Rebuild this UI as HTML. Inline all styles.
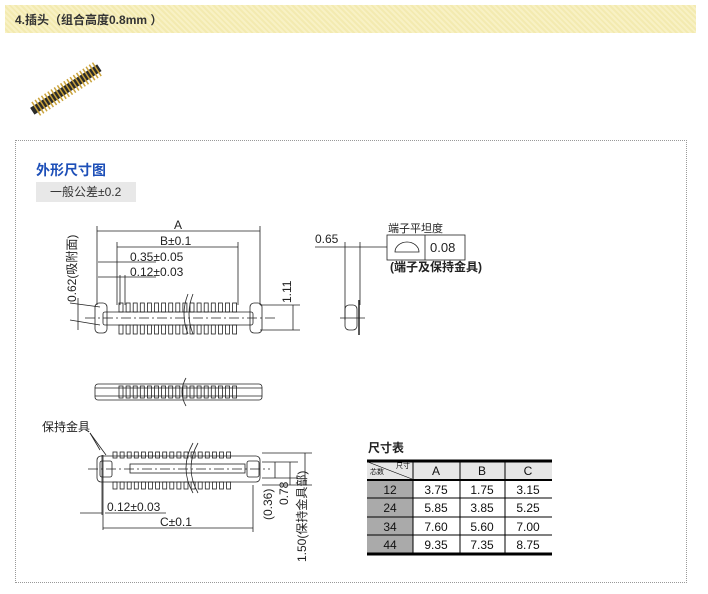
<!DOCTYPE html>
<html><head><meta charset="utf-8">
<style>
body{margin:0;width:708px;height:594px;background:#fff;font-family:"Liberation Sans","Noto Sans CJK SC",sans-serif;position:relative;overflow:hidden}
.hdr{position:absolute;left:5px;top:5px;width:691px;height:28px;background:repeating-linear-gradient(45deg,#f8f1c4 0 2px,#f3eab0 2px 4px);}
.hdr span{position:absolute;left:10px;top:6px;font-size:12px;font-weight:bold;color:#333}
.box{position:absolute;left:15px;top:140px;width:670px;height:441px;border:1px dotted #999}
.t1{position:absolute;left:36px;top:160px;font-size:14px;font-weight:bold;color:#1d4fb8}
.t2{position:absolute;left:36px;top:182px;width:100px;height:20px;background:#e8e8e8;font-size:12px;color:#333;line-height:20px;text-indent:14px}
svg{position:absolute;left:0;top:0}
</style></head><body>
<div class="hdr"><span>4.插头（组合高度0.8mm ）</span></div>
<div class="box"></div>
<div class="t1">外形尺寸图</div>
<div class="t2">一般公差±0.2</div>
<svg width="708" height="594" xmlns="http://www.w3.org/2000/svg" font-family="Liberation Sans,Noto Sans CJK SC,sans-serif">
<g transform="rotate(-33 65 90)">
<rect x="26" y="86" width="80" height="8" fill="#2a2a2a"/>
<g id="photopins"></g>
</g>
<g stroke="#222" fill="none" stroke-width="0.8">
<line x1="97" y1="226" x2="97" y2="305"/><line x1="260" y1="226" x2="260" y2="305"/>
<line x1="97" y1="231" x2="260" y2="231"/>
<line x1="117" y1="242" x2="117" y2="305"/><line x1="238" y1="242" x2="238" y2="305"/>
<line x1="117" y1="247" x2="238" y2="247"/>
<line x1="98" y1="262" x2="156" y2="262"/><line x1="98" y1="277" x2="156" y2="277"/>
<line x1="120" y1="275" x2="120" y2="305"/><line x1="125" y1="275" x2="125" y2="305"/>
<rect x="103" y="312" width="150" height="13" rx="2"/>
<rect x="95" y="303" width="12" height="30" rx="4"/><rect x="250" y="303" width="12" height="30" rx="4"/>
<line x1="85" y1="318" x2="275" y2="318" stroke-dasharray="10 3 2 3"/>
<line x1="260" y1="305" x2="300" y2="305"/><line x1="260" y1="330" x2="300" y2="330"/>
<line x1="293" y1="305" x2="293" y2="330"/>
<line x1="78" y1="298" x2="78" y2="330"/>
<line x1="70" y1="303" x2="100" y2="307"/><line x1="70" y1="320" x2="100" y2="325"/>
<path d="M188 294 q-8 20 0 40" /><path d="M193 294 q-8 20 0 40"/>
<g id="pins1"></g>
<rect x="95" y="384" width="167" height="16" rx="3"/>
<line x1="95" y1="388" x2="262" y2="388"/><line x1="95" y1="396" x2="262" y2="396"/>
<path d="M186 378 q-8 14 0 28" />
<g id="pins2"></g>
<rect x="97" y="456" width="163" height="26" rx="4"/>
<rect x="100" y="461" width="12" height="16" rx="2"/><rect x="247" y="461" width="12" height="16" rx="2"/>
<rect x="130" y="464" width="115" height="9"/>
<line x1="88" y1="469" x2="270" y2="469" stroke-dasharray="10 3 2 3"/>
<path d="M193 443 q-14 25 0 50"/><path d="M198 443 q-14 25 0 50"/>
<line x1="103" y1="455" x2="103" y2="530"/><line x1="102" y1="455" x2="102" y2="515"/><line x1="253" y1="485" x2="253" y2="532"/>
<line x1="80" y1="513" x2="102" y2="513"/><line x1="105" y1="513" x2="166" y2="513"/>
<line x1="103" y1="528" x2="253" y2="528"/>
<line x1="90" y1="433" x2="100" y2="450"/><line x1="90" y1="433" x2="106" y2="455"/>
<line x1="262" y1="453" x2="312" y2="453"/><line x1="262" y1="462" x2="298" y2="462"/><line x1="262" y1="478" x2="298" y2="478"/><line x1="262" y1="485" x2="312" y2="485"/>
<line x1="275" y1="462" x2="275" y2="478"/><line x1="290" y1="462" x2="290" y2="485"/><line x1="305" y1="453" x2="305" y2="485"/>
<g id="pins3"></g>
<line x1="315" y1="247" x2="387" y2="247"/>
<line x1="345" y1="242" x2="345" y2="320"/><line x1="360" y1="242" x2="360" y2="305"/>
<rect x="345" y="305" width="12" height="25" rx="4"/>
<line x1="359" y1="300" x2="359" y2="335" stroke-width="1.5"/>
<line x1="340" y1="318" x2="365" y2="318"/>
<rect x="387" y="235" width="78" height="25"/><line x1="425" y1="235" x2="425" y2="260"/>
<path d="M395 252 a12 10 0 0 1 24 0 z"/>
</g>
<g font-size="12" fill="#222">
<text x="174" y="229">A</text>
<text x="160" y="245">B±0.1</text>
<text x="130" y="261">0.35±0.05</text>
<text x="130" y="276">0.12±0.03</text>
<text transform="translate(76 302) rotate(-90)">0.62(吸附面)</text>
<text transform="translate(291 303) rotate(-90)">1.11</text>
<text x="107" y="511">0.12±0.03</text>
<text x="160" y="526">C±0.1</text>
<text transform="translate(272 520) rotate(-90)">(0.36)</text>
<text transform="translate(288 505) rotate(-90)">0.78</text>
<text transform="translate(306 562) rotate(-90)">1.50(保持金具部)</text>
<text x="42" y="431">保持金具</text>
<text x="315" y="243">0.65</text>
<text x="388" y="232" font-size="11">端子平坦度</text>
<text x="430" y="252" font-size="13">0.08</text>
<text x="390" y="271" font-weight="bold">(端子及保持金具)</text>
<text x="368" y="452" font-weight="bold" font-size="12">尺寸表</text>
</g>
<g>
<rect x="367" y="461" width="185" height="19" fill="#e6e6e6"/>
<rect x="367" y="480" width="46" height="74" fill="#aaa"/>
<g stroke="#000"><line x1="367" y1="461" x2="552" y2="461" stroke-width="3"/><line x1="367" y1="480" x2="552" y2="480" stroke-width="2"/><line x1="367" y1="554" x2="552" y2="554" stroke-width="3"/>
<line x1="367" y1="498" x2="552" y2="498"/><line x1="367" y1="517" x2="552" y2="517"/><line x1="367" y1="535" x2="552" y2="535"/>
<line x1="413" y1="461" x2="413" y2="554"/><line x1="460" y1="461" x2="460" y2="554"/><line x1="505" y1="461" x2="505" y2="554"/>
<line x1="368" y1="462" x2="412" y2="479" stroke-width="0.6"/></g>
<g font-size="12" fill="#111" text-anchor="middle">
<text x="436" y="475">A</text><text x="482" y="475">B</text><text x="528" y="475">C</text>
<text x="390" y="494">12</text><text x="436" y="494">3.75</text><text x="482" y="494">1.75</text><text x="528" y="494">3.15</text>
<text x="390" y="512">24</text><text x="436" y="512">5.85</text><text x="482" y="512">3.85</text><text x="528" y="512">5.25</text>
<text x="390" y="531">34</text><text x="436" y="531">7.60</text><text x="482" y="531">5.60</text><text x="528" y="531">7.00</text>
<text x="390" y="549">44</text><text x="436" y="549">9.35</text><text x="482" y="549">7.35</text><text x="528" y="549">8.75</text>
<text x="377" y="474" font-size="7">芯数</text><text x="403" y="468" font-size="7">尺寸</text>
</g></g>
</svg>
<script>
const ns="http://www.w3.org/2000/svg";
function r(g,x,y,w,h,f){const e=document.createElementNS(ns,"rect");e.setAttribute("x",x);e.setAttribute("y",y);e.setAttribute("width",w);e.setAttribute("height",h);if(f){e.setAttribute("fill",f);e.setAttribute("stroke","none");}document.getElementById(g).appendChild(e);}
for(let i=0;i<17;i++){let x=119+i*7.1;r("pins1",x,303,4,9);r("pins1",x,325,4,9);r("pins2",x,386,4,12);r("pins3",x-6,452,4,6);r("pins3",x-6,482,4,7);}
for(let i=0;i<20;i++){r("photopins",30+i*3.8,82,1.5,16,"#c9a23a");}
</script>
</body></html>
